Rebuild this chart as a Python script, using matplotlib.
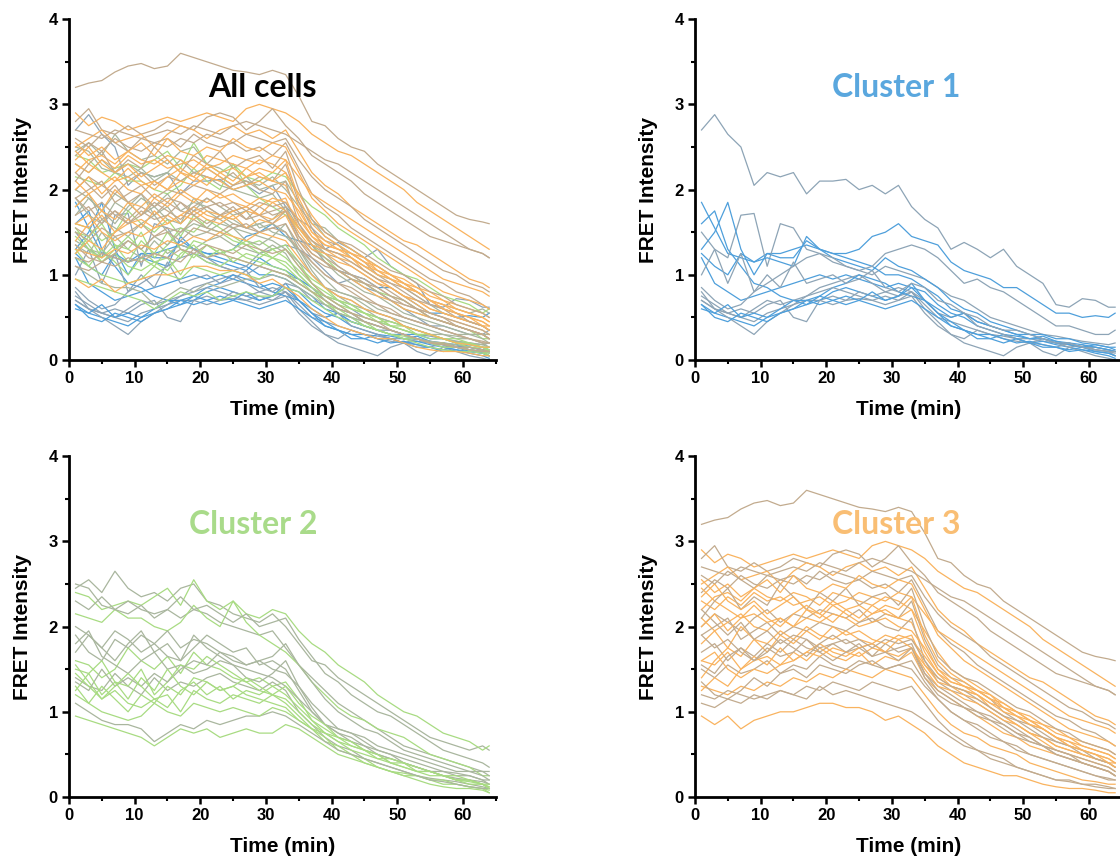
import matplotlib.pyplot as plt
from matplotlib.ticker import MultipleLocator

plt.rcParams['font.family'] = ['Liberation Sans', 'DejaVu Sans']

# time points (min), every 2 min plus the last frame
time_min = list(range(1, 64, 2)) + [64]

# Cluster 1 traces (FRET intensity)
c1_01 = [2.70, 2.88, 2.65, 2.50, 2.05, 2.20, 2.15, 2.20, 1.95, 2.10, 2.10,
         2.12, 2.00, 2.05, 1.95, 2.05, 1.80, 1.65, 1.55, 1.30, 1.38, 1.30,
         1.20, 1.30, 1.10, 1.00, 0.90, 0.65, 0.62, 0.72, 0.70, 0.62, 0.62]
c1_02 = [1.85, 1.55, 1.25, 1.20, 1.15, 1.25, 1.25, 1.30, 1.35, 1.30, 1.25,
         1.25, 1.30, 1.45, 1.50, 1.60, 1.45, 1.40, 1.35, 1.15, 1.05, 1.00,
         0.95, 0.85, 0.85, 0.75, 0.65, 0.55, 0.55, 0.50, 0.52, 0.50, 0.55]
c1_03 = [1.50, 1.30, 1.20, 1.70, 1.72, 1.10, 1.60, 1.55, 1.30, 1.25, 1.15,
         1.10, 1.05, 1.00, 1.10, 1.05, 1.00, 0.95, 0.85, 0.75, 0.70, 0.60,
         0.50, 0.45, 0.40, 0.35, 0.30, 0.28, 0.25, 0.22, 0.20, 0.18, 0.20]
c1_04 = [1.30, 1.50, 1.85, 1.30, 1.00, 1.25, 1.20, 1.20, 1.40, 1.30, 1.25,
         1.20, 1.15, 1.10, 1.00, 1.00, 0.95, 0.85, 0.75, 0.60, 0.55, 0.45,
         0.40, 0.35, 0.30, 0.30, 0.25, 0.22, 0.18, 0.15, 0.15, 0.12, 0.10]
c1_05 = [0.70, 0.60, 0.55, 0.50, 0.45, 0.55, 0.60, 0.65, 0.70, 0.70, 0.75,
         0.70, 0.72, 0.70, 0.65, 0.70, 0.80, 0.65, 0.50, 0.45, 0.40, 0.35,
         0.30, 0.28, 0.25, 0.25, 0.22, 0.20, 0.18, 0.15, 0.15, 0.12, 0.10]
c1_06 = [0.65, 0.55, 0.50, 0.45, 0.40, 0.50, 0.55, 0.60, 0.65, 0.70, 0.80,
         0.85, 0.80, 0.75, 0.70, 0.75, 0.85, 0.70, 0.55, 0.40, 0.35, 0.25,
         0.25, 0.30, 0.25, 0.20, 0.22, 0.18, 0.15, 0.12, 0.10, 0.08, 0.05]
c1_07 = [0.75, 0.65, 0.55, 0.60, 0.55, 0.65, 0.70, 0.50, 0.45, 0.70, 0.65,
         0.70, 0.80, 0.75, 0.80, 0.75, 0.80, 0.60, 0.45, 0.30, 0.25, 0.35,
         0.30, 0.25, 0.22, 0.20, 0.25, 0.20, 0.15, 0.18, 0.12, 0.10, 0.08]
c1_08 = [1.20, 0.90, 0.80, 0.70, 0.75, 0.80, 0.85, 0.90, 0.95, 1.00, 0.95,
         1.00, 0.95, 0.90, 0.85, 0.90, 0.85, 0.80, 0.65, 0.55, 0.50, 0.40,
         0.35, 0.30, 0.28, 0.25, 0.25, 0.20, 0.18, 0.15, 0.18, 0.15, 0.12]
c1_09 = [0.80, 0.60, 0.50, 0.40, 0.30, 0.45, 0.55, 0.65, 0.75, 0.85, 0.90,
         0.95, 1.00, 0.90, 0.80, 0.85, 0.80, 0.70, 0.55, 0.50, 0.55, 0.40,
         0.35, 0.30, 0.25, 0.20, 0.18, 0.15, 0.20, 0.15, 0.12, 0.10, 0.05]
c1_10 = [1.60, 1.75, 1.30, 1.10, 0.90, 0.85, 0.75, 0.70, 0.70, 0.75, 0.85,
         0.90, 1.00, 0.95, 0.90, 0.80, 0.75, 0.70, 0.60, 0.50, 0.55, 0.45,
         0.40, 0.35, 0.30, 0.25, 0.28, 0.22, 0.20, 0.18, 0.15, 0.12, 0.10]
c1_11 = [0.70, 0.60, 0.55, 0.50, 0.60, 0.70, 0.65, 0.70, 0.75, 0.80, 0.85,
         0.80, 0.75, 0.70, 0.75, 0.70, 0.75, 0.55, 0.40, 0.30, 0.20, 0.15,
         0.10, 0.05, 0.15, 0.20, 0.10, 0.05, 0.15, 0.10, 0.05, 0.02, 0.00]
c1_12 = [1.25, 1.10, 1.00, 1.25, 1.15, 1.20, 1.15, 1.10, 1.45, 1.30, 1.20,
         1.15, 1.10, 1.05, 1.20, 1.10, 1.05, 0.95, 0.85, 0.70, 0.60, 0.55,
         0.45, 0.40, 0.35, 0.30, 0.30, 0.25, 0.25, 0.20, 0.18, 0.15, 0.15]
c1_13 = [0.85, 0.70, 0.60, 0.65, 0.80, 0.90, 1.00, 1.10, 1.20, 1.25, 1.20,
         1.10, 1.05, 1.10, 1.25, 1.30, 1.35, 1.30, 1.20, 1.05, 0.90, 0.95,
         0.85, 0.80, 0.70, 0.60, 0.50, 0.40, 0.40, 0.35, 0.30, 0.30, 0.35]
c1_14 = [0.60, 0.55, 0.65, 0.50, 0.55, 0.50, 0.60, 0.70, 0.65, 0.75, 0.70,
         0.75, 0.70, 0.80, 0.70, 0.75, 0.90, 0.70, 0.55, 0.45, 0.35, 0.30,
         0.30, 0.25, 0.20, 0.22, 0.18, 0.15, 0.12, 0.15, 0.10, 0.08, 0.05]
c1_15 = [1.00, 1.30, 0.90, 1.25, 0.80, 1.00, 0.85, 1.15, 0.90, 0.95, 1.00,
         0.90, 0.95, 1.05, 0.85, 0.80, 0.90, 0.85, 0.70, 0.65, 0.55, 0.50,
         0.40, 0.35, 0.35, 0.30, 0.25, 0.20, 0.20, 0.15, 0.12, 0.10, 0.10]
c1_16 = [0.65, 0.50, 0.45, 0.55, 0.50, 0.45, 0.55, 0.60, 0.70, 0.65, 0.70,
         0.65, 0.70, 0.65, 0.60, 0.65, 0.70, 0.60, 0.50, 0.40, 0.35, 0.30,
         0.25, 0.20, 0.25, 0.20, 0.15, 0.15, 0.10, 0.12, 0.08, 0.05, 0.02]

# Cluster 2 traces
c2_01 = [2.45, 2.55, 2.40, 2.65, 2.45, 2.35, 2.40, 2.30, 2.45, 2.50, 2.30,
         2.25, 2.15, 2.10, 2.05, 2.15, 2.00, 1.80, 1.60, 1.55, 1.40, 1.30,
         1.20, 1.10, 1.00, 0.90, 0.80, 0.70, 0.65, 0.60, 0.55, 0.60, 0.55]
c2_02 = [2.40, 2.35, 2.20, 2.25, 2.30, 2.25, 2.35, 2.45, 2.25, 2.55, 2.30,
         2.20, 2.30, 2.15, 2.10, 2.20, 2.15, 1.95, 1.80, 1.70, 1.55, 1.45,
         1.35, 1.20, 1.10, 1.00, 0.95, 0.85, 0.75, 0.70, 0.65, 0.55, 0.60]
c2_03 = [2.50, 2.45, 2.25, 2.20, 2.30, 2.20, 2.15, 2.20, 2.10, 2.20, 2.15,
         2.05, 2.00, 1.95, 1.90, 1.95, 1.75, 1.55, 1.40, 1.25, 1.10, 1.00,
         0.90, 0.80, 0.70, 0.60, 0.55, 0.50, 0.45, 0.40, 0.35, 0.30, 0.30]
c2_04 = [2.15, 2.10, 2.05, 2.20, 2.10, 2.10, 2.00, 1.95, 2.05, 2.25, 2.10,
         2.00, 2.30, 2.05, 1.90, 1.80, 1.70, 1.55, 1.35, 1.20, 1.05, 0.95,
         0.90, 0.80, 0.75, 0.70, 0.60, 0.50, 0.45, 0.40, 0.35, 0.25, 0.25]
c2_05 = [1.90, 1.70, 1.60, 1.85, 1.75, 1.90, 1.80, 1.95, 1.75, 1.85, 1.80,
         1.70, 1.65, 1.55, 1.60, 1.50, 1.45, 1.30, 1.10, 0.95, 0.80, 0.75,
         0.65, 0.55, 0.50, 0.45, 0.40, 0.35, 0.30, 0.28, 0.25, 0.20, 0.20]
c2_06 = [1.60, 1.55, 1.40, 1.50, 1.75, 1.60, 1.50, 1.65, 1.45, 1.70, 1.55,
         1.50, 1.40, 1.35, 1.40, 1.30, 1.35, 1.15, 0.90, 0.75, 0.65, 0.60,
         0.55, 0.50, 0.40, 0.35, 0.30, 0.30, 0.25, 0.20, 0.18, 0.15, 0.12]
c2_07 = [1.40, 1.30, 1.25, 1.45, 1.30, 1.20, 1.40, 1.25, 1.35, 1.30, 1.40,
         1.45, 1.35, 1.30, 1.25, 1.35, 1.25, 1.00, 0.85, 0.70, 0.60, 0.55,
         0.45, 0.40, 0.35, 0.30, 0.25, 0.22, 0.20, 0.18, 0.15, 0.12, 0.10]
c2_08 = [1.55, 1.35, 1.15, 1.25, 1.10, 1.05, 1.15, 1.20, 1.00, 1.25, 1.15,
         1.10, 1.20, 1.15, 1.10, 1.20, 1.10, 0.95, 0.80, 0.65, 0.60, 0.50,
         0.45, 0.35, 0.30, 0.28, 0.25, 0.20, 0.20, 0.15, 0.12, 0.10, 0.05]
c2_09 = [1.80, 1.95, 1.65, 1.55, 1.45, 1.60, 1.70, 1.50, 1.55, 1.45, 1.50,
         1.60, 1.55, 1.40, 1.35, 1.45, 1.60, 1.30, 1.05, 0.85, 0.75, 0.70,
         0.60, 0.55, 0.50, 0.40, 0.35, 0.30, 0.30, 0.25, 0.25, 0.20, 0.15]
c2_10 = [1.20, 1.10, 1.30, 1.15, 1.00, 1.20, 1.10, 1.30, 1.20, 1.40, 1.35,
         1.25, 1.30, 1.20, 1.15, 1.10, 1.05, 0.90, 0.80, 0.70, 0.55, 0.50,
         0.40, 0.35, 0.30, 0.25, 0.25, 0.20, 0.15, 0.15, 0.12, 0.10, 0.08]
c2_11 = [2.00, 1.90, 1.75, 1.95, 1.85, 1.70, 1.80, 1.65, 1.60, 1.90, 1.75,
         1.65, 1.55, 1.50, 1.45, 1.40, 1.30, 1.15, 1.00, 0.85, 0.80, 0.75,
         0.70, 0.60, 0.55, 0.50, 0.45, 0.40, 0.35, 0.30, 0.30, 0.25, 0.20]
c2_12 = [1.50, 1.45, 1.60, 1.35, 1.30, 1.50, 1.20, 1.35, 1.55, 1.50, 1.65,
         1.55, 1.45, 1.35, 1.25, 1.20, 1.15, 1.00, 0.85, 0.75, 0.65, 0.55,
         0.50, 0.45, 0.40, 0.35, 0.30, 0.25, 0.25, 0.20, 0.15, 0.15, 0.10]
c2_13 = [1.35, 1.25, 1.50, 1.30, 1.40, 1.30, 1.45, 1.35, 1.50, 1.60, 1.55,
         1.70, 1.60, 1.55, 1.60, 1.65, 1.80, 1.55, 1.35, 1.15, 1.00, 0.90,
         0.80, 0.75, 0.65, 0.55, 0.50, 0.45, 0.40, 0.35, 0.30, 0.30, 0.25]
c2_14 = [0.95, 0.90, 0.85, 0.80, 0.75, 0.70, 0.60, 0.70, 0.80, 0.75, 0.80,
         0.70, 0.75, 0.80, 0.75, 0.75, 0.85, 0.80, 0.70, 0.60, 0.50, 0.45,
         0.40, 0.35, 0.30, 0.25, 0.20, 0.15, 0.12, 0.10, 0.10, 0.08, 0.05]
c2_15 = [1.10, 1.00, 0.90, 0.85, 0.85, 0.80, 0.65, 0.75, 0.85, 0.80, 0.90,
         0.85, 0.90, 0.95, 0.95, 1.00, 0.95, 0.85, 0.75, 0.65, 0.55, 0.50,
         0.45, 0.40, 0.35, 0.30, 0.25, 0.20, 0.18, 0.15, 0.12, 0.10, 0.10]
c2_16 = [1.30, 1.10, 1.00, 0.95, 0.90, 0.95, 1.10, 1.00, 0.95, 1.10, 1.05,
         1.00, 1.05, 1.00, 0.95, 1.05, 1.00, 0.90, 0.80, 0.75, 0.70, 0.65,
         0.55, 0.50, 0.45, 0.40, 0.35, 0.30, 0.25, 0.20, 0.20, 0.15, 0.12]
c2_17 = [1.70, 1.90, 1.75, 1.60, 1.80, 1.95, 1.70, 1.80, 1.60, 1.75, 1.90,
         1.80, 1.70, 1.75, 1.55, 1.60, 1.50, 1.25, 1.00, 0.85, 0.75, 0.65,
         0.60, 0.50, 0.45, 0.40, 0.35, 0.30, 0.25, 0.22, 0.20, 0.18, 0.15]
c2_18 = [1.25, 1.45, 1.20, 1.35, 1.15, 1.40, 1.25, 1.50, 1.30, 1.20, 1.35,
         1.25, 1.30, 1.40, 1.30, 1.20, 1.30, 1.10, 0.95, 0.85, 0.70, 0.65,
         0.55, 0.50, 0.40, 0.40, 0.35, 0.30, 0.25, 0.25, 0.20, 0.15, 0.15]
c2_19 = [2.30, 2.20, 2.35, 2.20, 2.15, 2.25, 2.10, 2.20, 2.35, 2.20, 2.25,
         2.15, 2.05, 2.15, 2.00, 2.05, 2.10, 1.85, 1.65, 1.45, 1.35, 1.20,
         1.10, 1.00, 0.95, 0.85, 0.75, 0.65, 0.55, 0.50, 0.45, 0.40, 0.35]
c2_20 = [1.45, 1.30, 1.15, 1.30, 1.45, 1.30, 1.15, 1.05, 1.25, 1.35, 1.20,
         1.30, 1.15, 1.25, 1.20, 1.30, 1.20, 1.05, 0.90, 0.80, 0.70, 0.60,
         0.55, 0.45, 0.45, 0.40, 0.30, 0.30, 0.25, 0.20, 0.20, 0.15, 0.10]

# Cluster 3 traces
c3_01 = [3.20, 3.25, 3.28, 3.38, 3.45, 3.48, 3.42, 3.45, 3.60, 3.55, 3.50,
         3.45, 3.40, 3.38, 3.35, 3.40, 3.35, 3.10, 2.80, 2.75, 2.60, 2.50,
         2.45, 2.30, 2.20, 2.10, 2.00, 1.90, 1.80, 1.70, 1.65, 1.62, 1.60]
c3_02 = [2.90, 2.75, 2.85, 2.80, 2.70, 2.75, 2.80, 2.85, 2.80, 2.85, 2.90,
         2.85, 2.80, 2.95, 3.00, 2.95, 2.90, 2.80, 2.65, 2.55, 2.45, 2.40,
         2.30, 2.20, 2.10, 2.00, 1.85, 1.75, 1.65, 1.55, 1.45, 1.35, 1.30]
c3_03 = [2.80, 2.95, 2.70, 2.65, 2.75, 2.65, 2.70, 2.80, 2.75, 2.70, 2.85,
         2.90, 2.85, 2.70, 2.80, 2.95, 2.75, 2.60, 2.40, 2.30, 2.20, 2.10,
         1.95, 1.85, 1.75, 1.65, 1.55, 1.45, 1.40, 1.35, 1.30, 1.25, 1.20]
c3_04 = [2.50, 2.60, 2.70, 2.55, 2.60, 2.65, 2.50, 2.65, 2.75, 2.70, 2.60,
         2.70, 2.75, 2.65, 2.70, 2.60, 2.70, 2.45, 2.20, 2.05, 1.95, 1.80,
         1.70, 1.60, 1.50, 1.40, 1.35, 1.25, 1.15, 1.05, 0.95, 0.90, 0.85]
c3_05 = [2.40, 2.55, 2.45, 2.60, 2.50, 2.45, 2.55, 2.60, 2.50, 2.65, 2.55,
         2.50, 2.55, 2.45, 2.50, 2.40, 2.55, 2.25, 1.95, 1.80, 1.70, 1.55,
         1.45, 1.35, 1.25, 1.15, 1.05, 0.95, 0.90, 0.80, 0.75, 0.65, 0.60]
c3_06 = [2.20, 2.35, 2.40, 2.30, 2.45, 2.35, 2.30, 2.40, 2.35, 2.25, 2.40,
         2.35, 2.30, 2.25, 2.35, 2.30, 2.20, 1.95, 1.70, 1.50, 1.40, 1.30,
         1.20, 1.10, 1.00, 0.90, 0.85, 0.75, 0.70, 0.60, 0.55, 0.50, 0.45]
c3_07 = [2.00, 2.15, 2.05, 1.95, 2.10, 2.20, 2.05, 2.15, 2.10, 2.20, 2.15,
         2.10, 2.20, 2.05, 2.15, 2.10, 2.30, 1.85, 1.55, 1.40, 1.35, 1.25,
         1.15, 1.00, 0.90, 0.85, 0.75, 0.65, 0.60, 0.50, 0.45, 0.40, 0.35]
c3_08 = [2.10, 1.95, 2.05, 2.15, 2.00, 1.95, 2.10, 2.00, 2.20, 2.10, 2.25,
         2.15, 2.05, 2.15, 2.20, 2.10, 2.05, 1.70, 1.45, 1.30, 1.25, 1.20,
         1.05, 0.95, 0.85, 0.75, 0.65, 0.55, 0.50, 0.45, 0.40, 0.35, 0.30]
c3_09 = [1.90, 2.00, 2.10, 1.85, 1.95, 2.05, 1.90, 2.00, 1.95, 2.05, 2.00,
         1.95, 2.05, 2.10, 2.00, 1.95, 2.10, 1.60, 1.35, 1.25, 1.20, 1.10,
         1.00, 0.90, 0.80, 0.70, 0.60, 0.55, 0.50, 0.40, 0.35, 0.30, 0.25]
c3_10 = [1.80, 1.95, 1.75, 2.00, 1.85, 1.80, 1.95, 1.85, 2.00, 1.90, 1.85,
         1.95, 1.85, 1.80, 1.90, 1.85, 1.90, 1.55, 1.35, 1.30, 1.20, 1.15,
         1.05, 0.95, 0.85, 0.75, 0.70, 0.60, 0.55, 0.50, 0.45, 0.40, 0.40]
c3_11 = [1.70, 1.80, 1.60, 1.75, 1.65, 1.80, 1.70, 1.85, 1.75, 1.70, 1.80,
         1.70, 1.75, 1.65, 1.80, 1.70, 1.75, 1.45, 1.30, 1.20, 1.10, 1.00,
         0.95, 0.85, 0.75, 0.70, 0.60, 0.55, 0.50, 0.45, 0.40, 0.35, 0.30]
c3_12 = [1.60, 1.55, 1.70, 1.50, 1.60, 1.65, 1.55, 1.70, 1.60, 1.75, 1.65,
         1.60, 1.70, 1.55, 1.65, 1.60, 1.70, 1.40, 1.25, 1.15, 1.05, 0.95,
         0.85, 0.75, 0.70, 0.60, 0.55, 0.50, 0.45, 0.40, 0.35, 0.30, 0.25]
c3_13 = [1.50, 1.40, 1.55, 1.45, 1.50, 1.60, 1.45, 1.55, 1.50, 1.65, 1.55,
         1.50, 1.60, 1.55, 1.50, 1.55, 1.50, 1.30, 1.15, 1.00, 0.90, 0.85,
         0.75, 0.65, 0.60, 0.50, 0.45, 0.40, 0.35, 0.30, 0.25, 0.22, 0.20]
c3_14 = [1.30, 1.25, 1.20, 1.30, 1.25, 1.35, 1.30, 1.40, 1.35, 1.45, 1.40,
         1.50, 1.45, 1.40, 1.50, 1.45, 1.40, 1.20, 1.00, 0.85, 0.75, 0.70,
         0.60, 0.55, 0.50, 0.40, 0.35, 0.30, 0.25, 0.20, 0.18, 0.15, 0.15]
c3_15 = [1.20, 1.15, 1.25, 1.20, 1.15, 1.20, 1.25, 1.20, 1.30, 1.25, 1.35,
         1.30, 1.25, 1.35, 1.30, 1.25, 1.30, 1.10, 0.90, 0.75, 0.65, 0.55,
         0.50, 0.45, 0.35, 0.30, 0.25, 0.20, 0.18, 0.15, 0.12, 0.10, 0.10]
c3_16 = [0.95, 0.85, 0.95, 0.80, 0.90, 0.95, 1.00, 1.00, 1.05, 1.10, 1.10,
         1.05, 1.05, 1.00, 0.90, 0.95, 0.85, 0.75, 0.60, 0.50, 0.40, 0.35,
         0.30, 0.25, 0.25, 0.20, 0.15, 0.12, 0.10, 0.10, 0.08, 0.05, 0.05]
c3_17 = [1.10, 1.05, 1.15, 1.10, 1.20, 1.15, 1.25, 1.20, 1.15, 1.30, 1.20,
         1.25, 1.20, 1.15, 1.10, 1.05, 1.00, 0.90, 0.80, 0.70, 0.60, 0.55,
         0.45, 0.40, 0.35, 0.30, 0.25, 0.20, 0.20, 0.15, 0.15, 0.12, 0.10]
c3_18 = [2.30, 2.20, 2.35, 2.25, 2.40, 2.30, 2.35, 2.25, 2.30, 2.35, 2.25,
         2.30, 2.40, 2.35, 2.30, 2.40, 2.35, 2.15, 1.95, 1.85, 1.75, 1.65,
         1.55, 1.45, 1.35, 1.25, 1.15, 1.05, 0.95, 0.90, 0.85, 0.80, 0.75]
c3_19 = [2.60, 2.50, 2.65, 2.55, 2.45, 2.60, 2.55, 2.50, 2.60, 2.55, 2.65,
         2.60, 2.55, 2.65, 2.60, 2.55, 2.60, 2.35, 2.15, 2.00, 1.90, 1.80,
         1.65, 1.55, 1.45, 1.35, 1.25, 1.15, 1.05, 1.00, 0.90, 0.85, 0.80]
c3_20 = [1.40, 1.60, 1.75, 1.65, 1.85, 1.70, 1.90, 1.80, 1.95, 1.85, 2.00,
         1.90, 1.95, 1.85, 1.80, 1.90, 1.85, 1.65, 1.45, 1.35, 1.30, 1.20,
         1.10, 1.00, 0.95, 0.85, 0.80, 0.70, 0.65, 0.60, 0.55, 0.50, 0.45]
c3_21 = [2.20, 2.05, 1.90, 2.05, 1.85, 1.95, 1.80, 1.90, 1.85, 1.75, 1.80,
         1.85, 1.75, 1.80, 1.70, 1.75, 1.80, 1.45, 1.25, 1.15, 1.05, 1.00,
         0.90, 0.80, 0.70, 0.65, 0.60, 0.50, 0.45, 0.40, 0.35, 0.30, 0.25]
c3_22 = [2.45, 2.30, 2.20, 2.10, 2.15, 2.05, 2.10, 2.00, 2.10, 2.05, 2.15,
         2.10, 2.00, 2.05, 2.10, 2.00, 1.95, 1.75, 1.50, 1.35, 1.30, 1.25,
         1.15, 1.10, 1.00, 0.90, 0.80, 0.70, 0.60, 0.55, 0.50, 0.45, 0.40]
c3_23 = [2.70, 2.65, 2.60, 2.70, 2.65, 2.60, 2.65, 2.70, 2.65, 2.75, 2.70,
         2.65, 2.75, 2.80, 2.75, 2.70, 2.65, 2.55, 2.45, 2.35, 2.30, 2.20,
         2.10, 2.00, 1.90, 1.80, 1.70, 1.60, 1.50, 1.40, 1.30, 1.25, 1.20]
c3_24 = [1.60, 1.70, 1.50, 1.40, 1.50, 1.45, 1.55, 1.60, 1.70, 1.65, 1.75,
         1.70, 1.65, 1.75, 1.70, 1.65, 1.75, 1.55, 1.40, 1.30, 1.25, 1.20,
         1.10, 1.05, 1.00, 0.95, 0.85, 0.80, 0.70, 0.65, 0.60, 0.55, 0.50]
c3_25 = [2.10, 2.30, 2.45, 2.20, 2.35, 2.25, 2.50, 2.35, 2.20, 2.40, 2.30,
         2.45, 2.25, 2.35, 2.40, 2.25, 2.45, 2.00, 1.65, 1.50, 1.40, 1.35,
         1.25, 1.15, 1.05, 1.00, 0.90, 0.80, 0.75, 0.65, 0.60, 0.55, 0.50]
c3_26 = [1.25, 1.40, 1.30, 1.50, 1.65, 1.55, 1.75, 1.60, 1.70, 1.80, 1.70,
         1.65, 1.75, 1.80, 1.70, 1.85, 1.75, 1.50, 1.30, 1.25, 1.15, 1.10,
         1.00, 0.90, 0.85, 0.75, 0.70, 0.60, 0.55, 0.50, 0.45, 0.40, 0.35]
c3_27 = [1.90, 1.75, 1.85, 1.70, 1.60, 1.75, 1.65, 1.70, 1.85, 1.70, 1.60,
         1.70, 1.80, 1.65, 1.70, 1.60, 1.75, 1.40, 1.20, 1.10, 1.05, 0.95,
         0.90, 0.85, 0.75, 0.65, 0.60, 0.50, 0.45, 0.40, 0.35, 0.30, 0.25]
c3_28 = [2.55, 2.40, 2.50, 2.35, 2.45, 2.55, 2.40, 2.60, 2.45, 2.40, 2.50,
         2.45, 2.60, 2.50, 2.45, 2.55, 2.50, 2.20, 1.90, 1.75, 1.60, 1.50,
         1.40, 1.30, 1.20, 1.10, 1.00, 0.90, 0.80, 0.75, 0.70, 0.65, 0.60]
c3_29 = [1.35, 1.20, 1.15, 1.25, 1.40, 1.30, 1.45, 1.50, 1.40, 1.55, 1.50,
         1.45, 1.55, 1.60, 1.50, 1.55, 1.60, 1.35, 1.15, 1.00, 0.90, 0.80,
         0.70, 0.65, 0.55, 0.50, 0.45, 0.40, 0.35, 0.30, 0.25, 0.20, 0.20]
c3_30 = [2.35, 2.50, 2.30, 2.20, 2.30, 2.15, 2.25, 2.35, 2.20, 2.15, 2.30,
         2.20, 2.25, 2.15, 2.25, 2.20, 2.35, 1.90, 1.60, 1.45, 1.35, 1.25,
         1.20, 1.05, 0.95, 0.90, 0.80, 0.70, 0.65, 0.55, 0.50, 0.45, 0.40]
c3_31 = [1.55, 1.45, 1.65, 1.75, 1.60, 1.70, 1.85, 1.75, 1.65, 1.80, 1.90,
         1.80, 1.85, 1.75, 1.85, 1.80, 1.85, 1.60, 1.40, 1.30, 1.25, 1.15,
         1.05, 0.95, 0.90, 0.80, 0.70, 0.65, 0.60, 0.55, 0.45, 0.40, 0.35]
c3_32 = [2.00, 2.15, 1.95, 2.10, 2.25, 2.10, 2.00, 2.15, 2.25, 2.15, 2.05,
         2.20, 2.10, 2.25, 2.15, 2.10, 2.20, 1.80, 1.50, 1.40, 1.30, 1.25,
         1.15, 1.05, 0.95, 0.85, 0.80, 0.70, 0.60, 0.55, 0.50, 0.40, 0.35]

cluster1 = [c1_01, c1_02, c1_03, c1_04, c1_05, c1_06, c1_07, c1_08, c1_09,
            c1_10, c1_11, c1_12, c1_13, c1_14, c1_15, c1_16]
cluster2 = [c2_01, c2_02, c2_03, c2_04, c2_05, c2_06, c2_07, c2_08, c2_09,
            c2_10, c2_11, c2_12, c2_13, c2_14, c2_15, c2_16, c2_17, c2_18,
            c2_19, c2_20]
cluster3 = [c3_01, c3_02, c3_03, c3_04, c3_05, c3_06, c3_07, c3_08, c3_09,
            c3_10, c3_11, c3_12, c3_13, c3_14, c3_15, c3_16, c3_17, c3_18,
            c3_19, c3_20, c3_21, c3_22, c3_23, c3_24, c3_25, c3_26, c3_27,
            c3_28, c3_29, c3_30, c3_31, c3_32]

titles = ['All cells', 'Cluster 1', 'Cluster 2', 'Cluster 3']
title_colors = ['black', '#5AA7DE', '#A9DB8A', '#F9BE74']
title_x = [29.4, 30.7, 28.0, 30.7]
# (grey, colour) pair for each cluster
line_colors = [('#8DA4B6', '#4E9FDB'), ('#A9B69E', '#A8DB82'), ('#C2AB8E', '#F9B35F')]


def draw_cluster(ax, traces, colors):
    for k, trace in enumerate(traces):
        ax.plot(time_min, trace, color=colors[k % 2], lw=0.9)


def style_axes(ax):
    ax.set_xlim(0, 65)
    ax.set_ylim(0, 4)
    for side in ['top', 'right']:
        ax.spines[side].set_visible(False)
    for side in ['left', 'bottom']:
        ax.spines[side].set_linewidth(2)
    ax.xaxis.set_major_locator(MultipleLocator(10))
    ax.xaxis.set_minor_locator(MultipleLocator(5))
    ax.yaxis.set_major_locator(MultipleLocator(1))
    ax.yaxis.set_minor_locator(MultipleLocator(0.5))
    ax.tick_params(which='major', direction='out', length=5, width=1.8,
                   labelsize=12, pad=3)
    ax.tick_params(which='minor', direction='out', length=3, width=1.5)
    for lab in ax.get_xticklabels() + ax.get_yticklabels():
        lab.set_fontweight('bold')
    ax.set_xlabel('Time (min)', fontsize=15, fontweight='bold')
    ax.set_ylabel('FRET Intensity', fontsize=15, fontweight='bold')
    ax.xaxis.set_label_coords(0.5, -0.117)
    ax.yaxis.set_label_coords(-0.087, 0.5)


fig = plt.figure(figsize=(11.2, 8.65), dpi=100)
w, h = 0.381, 0.394
positions = [(0.0616, 0.5838), (0.6205, 0.5838), (0.0616, 0.0786), (0.6205, 0.0786)]
axes = [fig.add_axes([x0, y0, w, h]) for x0, y0 in positions]

# All cells: every cluster together
for traces, colors in zip([cluster1, cluster2, cluster3], line_colors):
    draw_cluster(axes[0], traces, colors)
draw_cluster(axes[1], cluster1, line_colors[0])
draw_cluster(axes[2], cluster2, line_colors[1])
draw_cluster(axes[3], cluster3, line_colors[2])

for ax, title, tc, tx in zip(axes, titles, title_colors, title_x):
    style_axes(ax)
    ax.text(tx, 3.09, title, color=tc, fontsize=23, fontweight='bold',
            family=['Lato', 'DejaVu Sans'], ha='center', va='baseline')

fig.savefig('out.png', dpi=100)
